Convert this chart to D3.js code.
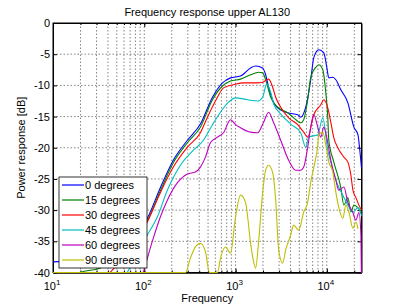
<!DOCTYPE html>
<html>
<head>
<meta charset="utf-8">
<script src="https://cdn.jsdelivr.net/npm/d3@7"></script>
<style>
  body { margin: 0; background: #fff; }
  svg { font-family: "Liberation Sans", Arial, sans-serif; }
</style>
</head>
<body>
<div id="chart"></div>
<script>
// [frequency Hz, power dB]
var deg0 = [[10,-38.3],[15.4,-38.1],[25.5,-37.7],[42.3,-36.7],[70,-34.5],[108,-31.3],[150,-26.4],[208,-22],
  [297,-18.8],[412,-16.2],[559,-11.9],[720,-9.6],[881,-8.8],[1135,-8.5],[1462,-7.2],[1660,-6.9],[1982,-7.2],
  [2138,-8.3],[2305,-10.3],[2754,-13.3],[3727,-14.4],[4800,-14.7],[5176,-15.1],[5875,-13.5],[6669,-9.1],
  [7194,-5.6],[8166,-4.3],[9270,-4.8],[10000,-7.1],[10520,-8.8],[11640,-8.7],[12560,-9.1],[14250,-10.7],
  [17020,-12.8],[19810,-16.7],[21930,-17.9],[23000,-20.4],[24000,-23.2]];
var deg15 = [[10,-44],[19.8,-40],[32.8,-39.3],[48,-37.7],[70,-35.1],[108,-31.7],[150,-26.9],[208,-22.4],
  [297,-19.2],[412,-16.7],[559,-12.3],[720,-10.1],[881,-9.3],[1135,-9.0],[1462,-8.3],[1790,-7.9],[1982,-8.0],
  [2138,-9.1],[2427,-11.9],[2895,-13.5],[3727,-14.4],[4337,-15.2],[5176,-16.0],[5585,-15.5],[6180,-12.3],
  [6669,-8.7],[7570,-7.1],[8166,-6.7],[9036,-7.5],[9754,-11.2],[10250,-15.1],[10520,-18.8],[11940,-22.3],
  [14250,-26.4],[15380,-29.2],[17020,-28],[18370,-30.3],[19810,-29.2],[21930,-29.6],[24000,-30.3]];
var deg30 = [[30,-43],[42.3,-40],[54.5,-38.3],[79.6,-35.3],[108,-31.9],[150,-27.2],[208,-23.1],[297,-19.9],
  [412,-17.6],[492,-15.1],[634,-11.9],[738,-10.4],[951,-9.9],[1225,-9.6],[1462,-9.6],[1746,-9.6],[1982,-9.5],
  [2305,-9.0],[2553,-10.3],[2754,-11.9],[3126,-13.5],[3820,-15.2],[4800,-16.3],[5585,-17.5],[6180,-18.3],
  [7194,-14.7],[8593,-13.1],[9270,-12.3],[10250,-13.6],[11060,-15.9],[11940,-18.4],[13210,-20.0],
  [15380,-21.5],[17020,-22.3],[18370,-24.4],[19320,-26.8],[20840,-28.0],[22500,-29.2],[24000,-30.0]];
var deg45 = [[40,-44],[65,-40],[79.6,-37.7],[108,-34.0],[139,-31.1],[179,-26.8],[249,-22.8],[345,-20.4],
  [445,-18.8],[559,-16.3],[684,-14.3],[837,-12.7],[1000,-12.0],[1355,-12.3],[1746,-12.5],[1982,-11.9],
  [2190,-9.8],[2427,-11.1],[2617,-13.0],[3126,-14.6],[4018,-16.2],[5176,-17.6],[5875,-19.9],[6340,-18.3],
  [7960,-17.9],[9036,-15.2],[10250,-20.4],[11060,-22.3],[13210,-26.0],[15000,-27.6],[17020,-29.2],
  [19320,-30.3],[21930,-29.6],[24000,-30.9]];
var deg60 = [[70,-45],[97.5,-40],[110.6,-37.2],[125.6,-34.5],[150,-31.1],[179,-28.4],[231,-25.6],[297,-24.2],
  [363,-23.9],[412,-23.1],[468,-21.5],[531,-19.2],[634,-18.3],[738,-17.6],[881,-15.5],[1000,-16.3],
  [1135,-16.8],[1462,-17.5],[1746,-17.6],[2031,-15.9],[2305,-14.3],[2617,-16.0],[3126,-18.8],[3820,-22.0],
  [4560,-23.6],[5176,-23.6],[5585,-23.1],[6180,-19.9],[6669,-16.7],[7194,-14.7],[7960,-16.7],[8593,-18.3],
  [9270,-16.7],[10250,-19.2],[11060,-22.0],[12560,-25.2],[13550,-26.8],[15380,-26.3],[17020,-28.8],
  [19320,-30.4],[20840,-31.6],[22500,-30.4],[23660,-34],[24000,-42]];
var deg90 = [[10,-40],[283,-40],[320,-37.7],[363,-35.9],[412,-35.3],[468,-36.7],[518,-40],[634,-40],
  [684,-37.7],[776,-35.9],[881,-36.9],[1000,-31.1],[1135,-27.6],[1288,-28.8],[1462,-35.3],[1578,-38.3],
  [1660,-39.3],[1790,-35.1],[1982,-27.2],[2138,-23.6],[2305,-22.8],[2553,-24.0],[2754,-28.4],[2972,-36.4],
  [3283,-38.5],[3540,-36.4],[4018,-34.0],[4337,-32.4],[4920,-33.2],[5585,-30.3],[6180,-28.7],[6669,-25.5],
  [7194,-23.2],[7960,-19.6],[8166,-17.9],[9036,-17.5],[9754,-19.6],[10520,-22.3],[11640,-23.9],
  [12560,-27.1],[13550,-29.6],[15000,-31.3],[16180,-29.2],[17460,-30.3],[19320,-32.9],[20840,-31.9],
  [22000,-33]];

var seriesNames = ["0 degrees", "15 degrees", "30 degrees", "45 degrees", "60 degrees", "90 degrees"];
var yTicks = [0, -5, -10, -15, -20, -25, -30, -35, -40];
var xTicks = [10, 100, 1000, 10000];
var xTickExp = ["1", "2", "3", "4"];

var colors = ["#0000ff", "#008000", "#ff0000", "#00bfbf", "#bf00bf", "#bfbf00"];
var allSeries = [deg0, deg15, deg30, deg45, deg60, deg90];

var W = 400, H = 306;
var margin = { top: 23, right: 38.5, bottom: 33.5, left: 53 },
    width = W - margin.left - margin.right,
    height = H - margin.top - margin.bottom;

var svg = d3.select("#chart").append("svg")
    .attr("width", W)
    .attr("height", H);

var g = svg.append("g")
    .attr("transform", "translate(" + margin.left + "," + margin.top + ")");

var x = d3.scaleLog().domain([10, 24000]).range([0, width]);
var y = d3.scaleLinear().domain([-40, 0]).range([height, 0]);

// minor positions 2..9 for every decade
var minor = [];
[10, 100, 1000, 10000].forEach(function (dec) {
    for (var k = 1; k <= 9; k++) {
        var v = dec * k;
        if (v >= 10 && v <= 24000) minor.push(v);
    }
});

// grid
g.append("g").selectAll("line.vg")
    .data(minor.filter(function (v) { return v > 10; }))
    .enter().append("line")
    .attr("x1", function (d) { return x(d); })
    .attr("x2", function (d) { return x(d); })
    .attr("y1", 0).attr("y2", height)
    .attr("stroke", "#666").attr("stroke-width", 0.8)
    .attr("stroke-dasharray", "1.5,2");
g.append("g").selectAll("line.hg")
    .data(yTicks.filter(function (v) { return v > -40 && v < 0; }))
    .enter().append("line")
    .attr("x1", 0).attr("x2", width)
    .attr("y1", function (d) { return y(d); })
    .attr("y2", function (d) { return y(d); })
    .attr("stroke", "#666").attr("stroke-width", 0.8)
    .attr("stroke-dasharray", "1.5,2");

// axes (ticks pointing inward like matlab)
var yAxis = g.append("g")
    .call(d3.axisLeft(y).tickValues(yTicks).tickSizeInner(-4).tickSizeOuter(0).tickPadding(3)
        .tickFormat(function (d) { return d; }));
g.append("g")
    .attr("transform", "translate(" + width + ",0)")
    .call(d3.axisRight(y).tickValues(yTicks).tickSizeInner(-4).tickSizeOuter(0).tickFormat(""));
g.append("g")
    .attr("transform", "translate(0," + height + ")")
    .call(d3.axisBottom(x).tickValues(xTicks).tickSizeInner(-4).tickSizeOuter(0).tickFormat(""));
g.append("g")
    .attr("transform", "translate(0," + height + ")")
    .call(d3.axisBottom(x).tickValues(minor).tickSizeInner(-2).tickSizeOuter(0).tickFormat(""));
g.append("g")
    .call(d3.axisTop(x).tickValues(xTicks).tickSizeInner(-4).tickSizeOuter(0).tickFormat(""));
g.append("g")
    .call(d3.axisTop(x).tickValues(minor).tickSizeInner(-2).tickSizeOuter(0).tickFormat(""));

g.selectAll(".domain").attr("stroke", "#000");
g.selectAll(".tick line").attr("stroke", "#000");
yAxis.selectAll(".tick text").attr("font-size", 11).attr("fill", "#000")
    .attr("font-family", "Liberation Sans, Arial, sans-serif");

// x tick labels 10^n
xTicks.forEach(function (v, i) {
    var t = g.append("text")
        .attr("x", x(v) - 1)
        .attr("y", height + 17)
        .attr("text-anchor", "middle")
        .attr("font-size", 11)
        .attr("fill", "#000");
    t.append("tspan").text("10");
    t.append("tspan").attr("dy", -5).attr("font-size", 8).text(xTickExp[i]);
});

// box
g.append("rect")
    .attr("width", width).attr("height", height)
    .attr("fill", "none").attr("stroke", "#000").attr("stroke-width", 1);

// curves
svg.append("clipPath").attr("id", "plotclip")
    .append("rect").attr("x", -1).attr("y", -1).attr("width", width + 2).attr("height", height + 1.5);

var line = d3.line()
    .x(function (d) { return x(d[0]); })
    .y(function (d) { return y(d[1]); })
    .curve(d3.curveMonotoneX);

g.append("g").attr("clip-path", "url(#plotclip)")
    .selectAll("path.curve")
    .data(allSeries)
    .enter().append("path")
    .attr("class", "curve")
    .attr("fill", "none")
    .attr("stroke", function (d, i) { return colors[i]; })
    .attr("stroke-width", 1.1)
    .attr("d", line);

// legend
var leg = g.append("g").attr("transform", "translate(6,154)");
leg.append("rect")
    .attr("width", 88).attr("height", 91)
    .attr("fill", "#fff").attr("stroke", "#000").attr("stroke-width", 0.8);
var item = leg.selectAll("g.item")
    .data(seriesNames)
    .enter().append("g")
    .attr("transform", function (d, i) { return "translate(0," + (8 + i * 15) + ")"; });
item.append("line")
    .attr("x1", 3).attr("x2", 25)
    .attr("stroke", function (d, i) { return colors[i]; })
    .attr("stroke-width", 1.2);
item.append("text")
    .attr("x", 26).attr("dy", "0.35em")
    .attr("font-size", 11).attr("fill", "#000")
    .text(function (d) { return d; });

// title and labels
svg.append("text")
    .attr("x", margin.left + width / 2).attr("y", 16)
    .attr("text-anchor", "middle").attr("font-size", 11)
    .text("Frequency response upper AL130");
svg.append("text")
    .attr("x", margin.left + width / 2).attr("y", 302)
    .attr("text-anchor", "middle").attr("font-size", 11)
    .text("Frequency");
svg.append("text")
    .attr("transform", "translate(25," + (margin.top + height / 2) + ") rotate(-90)")
    .attr("text-anchor", "middle").attr("font-size", 11)
    .text("Power response [dB]");
</script>
</body>
</html>
